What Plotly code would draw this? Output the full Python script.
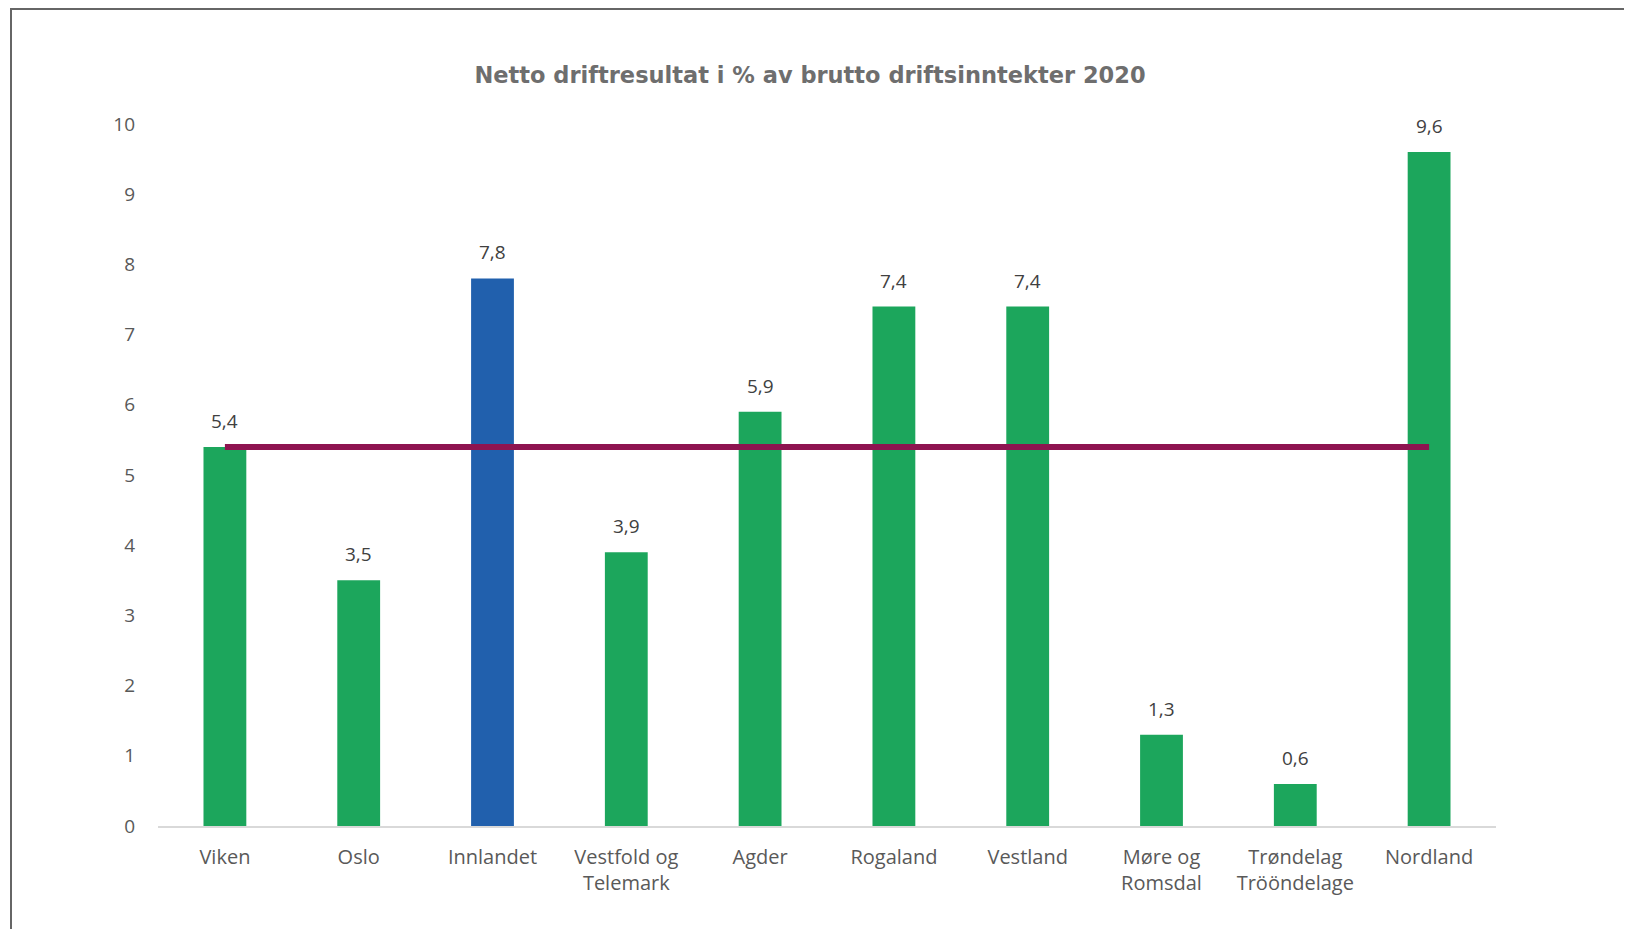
import plotly.graph_objects as go

# data
regions = ["Viken", "Oslo", "Innlandet", "Vestfold og<br>Telemark", "Agder",
           "Rogaland", "Vestland", "Møre og<br>Romsdal", "Trøndelag<br>Trööndelage", "Nordland"]
values = [5.4, 3.5, 7.8, 3.9, 5.9, 7.4, 7.4, 1.3, 0.6, 9.6]
average = [5.4, 5.4, 5.4, 5.4, 5.4, 5.4, 5.4, 5.4, 5.4, 5.4]
highlight = "Innlandet"
y_ticks = [0, 1, 2, 3, 4, 5, 6, 7, 8, 9, 10]

GREEN = "#1ca65c"
BLUE = "#2160ad"
LINE = "#8e1450"
GREY = "#595959"
FONT = "Open Sans, Lato, sans-serif"

bar_colors = [BLUE if r == highlight else GREEN for r in regions]

fig = go.Figure()
fig.add_trace(go.Bar(
    x=regions, y=values,
    marker=dict(color=bar_colors, line=dict(width=0)),
    hovertemplate="%{x}: %{y:.1f}<extra></extra>",
))
fig.add_trace(go.Scatter(
    x=regions, y=average, mode="lines",
    line=dict(color=LINE, width=6),
    hoverinfo="skip",
))

# value labels above the bars
for r, v in zip(regions, values):
    fig.add_annotation(
        x=r, y=v, text=f"{v:.1f}".replace(".", ","),
        showarrow=False, yanchor="bottom", yshift=11,
        font=dict(family=FONT, size=19, color="#404040"),
    )

# page has an 8px body margin, so the figure is a bit smaller than the window
W, H = 1624, 921
L, R, T, B = 150, 136, 116, 103
pw, ph = W - L - R, H - T - B

# outer frame (Excel chart border, cut off at right and bottom)
fig.add_shape(
    type="rect", xref="paper", yref="paper",
    x0=(3 - L) / pw, x1=(W + 40 - L) / pw,
    y0=(H - B - (H + 40)) / ph, y1=(H - B - 1) / ph,
    line=dict(color="#666666", width=2), fillcolor="rgba(0,0,0,0)",
    layer="below",
)

fig.update_layout(
    width=W, height=H,
    margin=dict(l=L, r=R, t=T, b=B),
    paper_bgcolor="white", plot_bgcolor="white",
    showlegend=False,
    bargap=0.68,
    separators=",.",
    title=dict(
        text="<b>Netto driftresultat i % av brutto driftsinntekter 2020</b>",
        x=(802 - L) / pw, xref="paper", xanchor="center",
        y=1 - 67 / H, yref="container", yanchor="middle",
        font=dict(family="DejaVu Sans, sans-serif", size=22.5, color="#6e6e6e"),
    ),
)
fig.update_xaxes(
    showline=True, linecolor="#d9d9d9", linewidth=2,
    showgrid=False, ticks="",
    tickfont=dict(family=FONT, size=20, color=GREY),
    ticklabelstandoff=12,
)
fig.update_yaxes(
    range=[0, 10], tickvals=y_ticks,
    showgrid=False, zeroline=False, showline=False, ticks="",
    tickfont=dict(family=FONT, size=19, color=GREY),
    ticklabelstandoff=22,
)

fig.write_html("out.html")
